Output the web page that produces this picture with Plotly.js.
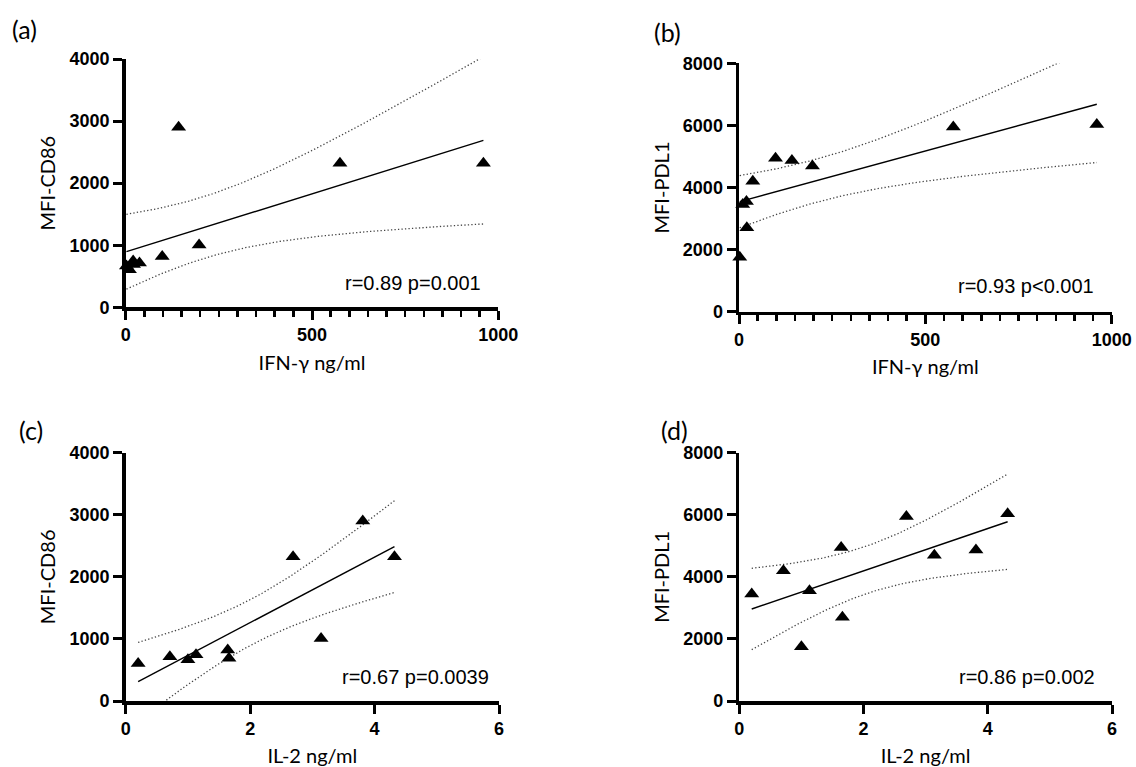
<!DOCTYPE html>
<html><head><meta charset="utf-8">
<script src="https://cdn.plot.ly/plotly-3.0.1.min.js"></script>
<style>html,body{margin:0;padding:0;background:#fff;}</style>
</head><body><div id="chart" style="width:1136px;height:767px;"></div>
<script>
// ---- data (one entry per sample) ----
const il2Values  = [0.2, 0.71, 1.0, 1.13, 1.64, 1.66, 2.69, 3.14, 3.81, 4.32];   // IL-2 ng/ml
const ifngValues = [10, 37, 2, 20, 98, 21, 575, 197, 142, 960];                  // IFN-γ ng/ml
const cd86Values = [605, 712, 664, 744, 820, 688, 2322, 1005, 2900, 2322];       // MFI-CD86
const pdl1Values = [3450, 4200, 1750, 3550, 4945, 2700, 5945, 4695, 4866, 6030]; // MFI-PDL1
const panelLabels = ['(a)', '(b)', '(c)', '(d)'];
const statTexts = ['r=0.89 p=0.001', 'r=0.93 p<0.001', 'r=0.67 p=0.0039', 'r=0.86 p=0.002'];
const xTitles = ['IFN-γ ng/ml', 'IFN-γ ng/ml', 'IL-2 ng/ml', 'IL-2 ng/ml'];
const yTitles = ['MFI-CD86', 'MFI-PDL1', 'MFI-CD86', 'MFI-PDL1'];
const T_975_DF8 = 2.306; // Student t quantile for 95% CI with n-2 = 8 df

// ---- layout geometry ----
const W = 1136, H = 767;
const fx = p => p / W, fy = p => 1 - p / H;
const panels = [
  {xs: ifngValues, ys: cd86Values, xdom: [125.7, 498.3], ydom: [307.3, 59], xr: [0, 1000], yr: [0, 4000], xdt: 500, minor: 50, ydt: 1000, lab: [10, 29], st: [0.96, 0.045]},
  {xs: ifngValues, ys: pdl1Values, xdom: [739, 1111.7], ydom: [311.7, 63.3], xr: [0, 1000], yr: [0, 8000], xdt: 500, minor: 50, ydt: 2000, lab: [652, 32], st: [0.958, 0.05]},
  {xs: il2Values, ys: cd86Values, xdom: [125.7, 499], ydom: [701, 452.7], xr: [0, 6], yr: [0, 4000], xdt: 2, minor: null, ydt: 1000, lab: [17, 430], st: [0.978, 0.045]},
  {xs: il2Values, ys: pdl1Values, xdom: [739.3, 1112], ydom: [701, 452.7], xr: [0, 6], yr: [0, 8000], xdt: 2, minor: null, ydt: 2000, lab: [659, 430], st: [0.96, 0.045]}
];

function regression(xs, ys) {
  const n = xs.length;
  const mx = xs.reduce((a, b) => a + b, 0) / n;
  const my = ys.reduce((a, b) => a + b, 0) / n;
  let sxx = 0, sxy = 0, syy = 0;
  for (let i = 0; i < n; i++) {
    const dx = xs[i] - mx, dy = ys[i] - my;
    sxx += dx * dx; sxy += dx * dy; syy += dy * dy;
  }
  const b = sxy / sxx, a = my - b * mx;
  const s = Math.sqrt((syy - b * sxy) / (n - 2));
  return {n, mx, sxx, a, b, s};
}

const traces = [];
const layout = {
  width: W, height: H, margin: {l: 0, r: 0, t: 0, b: 0},
  paper_bgcolor: '#fff', plot_bgcolor: '#fff', showlegend: false,
  annotations: []
};
const tickFont = {family: 'Liberation Sans, Arial, sans-serif', size: 18, weight: 700, color: '#000'};
const titleFont = {family: 'Lato, Calibri, sans-serif', size: 20, color: '#000'};

panels.forEach((p, i) => {
  const k = i === 0 ? '' : String(i + 1);
  const xa = 'x' + k, ya = 'y' + k;
  const r = regression(p.xs, p.ys);
  const xmin = Math.min(...p.xs), xmax = Math.max(...p.xs);
  const N = 120, gx = [], gy = [], gu = [], gl = [];
  for (let j = 0; j <= N; j++) {
    const x = xmin + (xmax - xmin) * j / N;
    const yh = r.a + r.b * x;
    const se = r.s * Math.sqrt(1 / r.n + (x - r.mx) * (x - r.mx) / r.sxx);
    gx.push(x); gy.push(yh); gu.push(yh + T_975_DF8 * se); gl.push(yh - T_975_DF8 * se);
  }
  const dotLine = {color: '#444', width: 1.3, dash: '1.3px,2.2px'};
  traces.push({x: gx, y: gu, xaxis: xa, yaxis: ya, type: 'scatter', mode: 'lines', line: dotLine, hoverinfo: 'skip'});
  traces.push({x: gx, y: gl, xaxis: xa, yaxis: ya, type: 'scatter', mode: 'lines', line: dotLine, hoverinfo: 'skip'});
  traces.push({x: gx, y: gy, xaxis: xa, yaxis: ya, type: 'scatter', mode: 'lines', line: {color: '#000', width: 1.4}, hoverinfo: 'skip'});
  // scatter points
  traces.push({x: p.xs, y: p.ys, xaxis: xa, yaxis: ya, type: 'scatter', mode: 'markers', cliponaxis: false,
    marker: {symbol: 'triangle-up', size: 13, color: '#000', line: {width: 0}}, hoverinfo: 'x+y'});

  const common = {showline: true, linewidth: 3.5, linecolor: '#000', ticks: 'outside', ticklen: 9, tickwidth: 3,
    tickcolor: '#000', showgrid: false, zeroline: false, tickfont: tickFont, fixedrange: true};
  const xax = Object.assign({}, common, {
    domain: [fx(p.xdom[0]), fx(p.xdom[1])], range: p.xr, anchor: ya, tick0: 0, dtick: p.xdt,
    title: {text: xTitles[i], font: titleFont, standoff: 12}
  });
  if (p.minor) xax.minor = {tick0: 0, dtick: p.minor, ticks: 'outside', ticklen: 6, tickwidth: 2.5, tickcolor: '#000', showgrid: false};
  layout['xaxis' + k] = xax;
  layout['yaxis' + k] = Object.assign({}, common, {
    domain: [fy(p.ydom[0]), fy(p.ydom[1])], range: p.yr, anchor: xa, tick0: 0, dtick: p.ydt,
    title: {text: yTitles[i], font: titleFont, standoff: 9}
  });
  layout.annotations.push({xref: xa + ' domain', yref: ya + ' domain', x: p.st[0], y: p.st[1], xanchor: 'right', yanchor: 'bottom',
    text: statTexts[i], showarrow: false, font: {family: 'Liberation Sans, Arial, sans-serif', size: 20, color: '#000'}});
  layout.annotations.push({xref: 'paper', yref: 'paper', x: fx(p.lab[0]), y: fy(p.lab[1]), xanchor: 'left', yanchor: 'middle',
    text: panelLabels[i], showarrow: false, font: {family: 'Lato, Calibri, sans-serif', size: 25, color: '#000'}});
});

Plotly.newPlot('chart', traces, layout, {displayModeBar: false, staticPlot: true});
</script>
</body></html>
